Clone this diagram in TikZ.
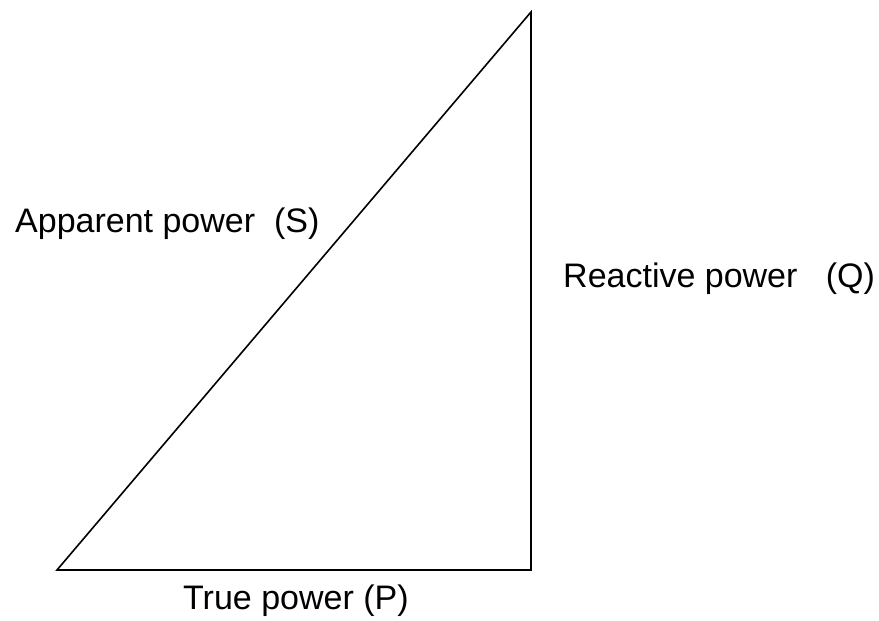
\documentclass[tikz,border=0pt]{standalone}
\usepackage{fontspec}
\setmainfont{Liberation Sans}
\usetikzlibrary{arrows}

\begin{document}
\begin{tikzpicture}[x=1pt,y=1pt,
	lbl/.style = {inner sep=0pt, font=\fontsize{34}{40}\selectfont}]
	\useasboundingbox (0,0) rectangle (879,621);
	\coordinate (p) at (57,51);
	\coordinate (q) at (531,51);
	\coordinate (s) at (531,609);
	\draw [line width=1.6pt] (p) -- (q) -- (s) -- cycle;
	\node [lbl, anchor = base west] (S) at (15,388) {Apparent power\ \ (S)};
	\node [lbl, anchor = base west] (Q) at (563,333) {Reactive power\ \ \ (Q)};
	\node [lbl, anchor = base west] (P) at (183,11) {True power (P)};
\end{tikzpicture}
\end{document}
